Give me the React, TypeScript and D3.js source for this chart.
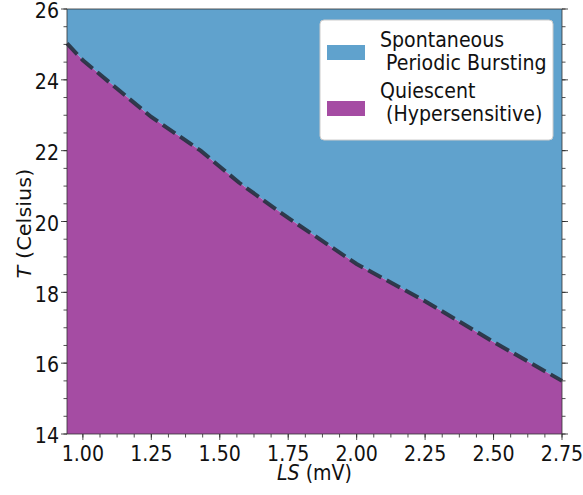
import { useEffect, useRef } from "react";
import * as d3 from "d3";

// boundary between the two regimes
const lsValues = [0.942, 1.0, 1.25, 1.43, 1.57, 1.75, 2.0, 2.25, 2.5, 2.75];
const tValues = [25.03, 24.55, 22.95, 22.0, 21.1, 20.1, 18.8, 17.75, 16.6, 15.5];

const xTicks = [1.0, 1.25, 1.5, 1.75, 2.0, 2.25, 2.5, 2.75];
const yTicks = [14, 16, 18, 20, 22, 24, 26];

const legendLabels = [
  ["Spontaneous", " Periodic Bursting"],
  ["Quiescent", " (Hypersensitive)"],
];

const BLUE = "#60a2cd";
const PURPLE = "#a54ca3";

const width = 583;
const height = 495;
const margin = { top: 9, right: 21, bottom: 61, left: 67 };
// the source figure is slightly stretched vertically
const SY = 1.1;
const FS = 19;

export default function App() {
  const svgRef = useRef<SVGSVGElement>(null);

  useEffect(() => {
    const svg = d3.select(svgRef.current);
    svg.selectAll("*").remove();

    const x = d3
      .scaleLinear()
      .domain([0.942, 2.75])
      .range([margin.left, width - margin.right]);
    const y = d3
      .scaleLinear()
      .domain([14, 26])
      .range([height - margin.bottom, margin.top]);

    const data = lsValues.map((v, i) => ({ ls: v, t: tValues[i] }));

    // upper region (bursting)
    svg
      .append("path")
      .datum(data)
      .attr("fill", BLUE)
      .attr(
        "d",
        d3
          .area<{ ls: number; t: number }>()
          .x((d) => x(d.ls))
          .y0(y(26))
          .y1((d) => y(d.t))
      );

    // lower region (quiescent)
    svg
      .append("path")
      .datum(data)
      .attr("fill", PURPLE)
      .attr(
        "d",
        d3
          .area<{ ls: number; t: number }>()
          .x((d) => x(d.ls))
          .y0(y(14))
          .y1((d) => y(d.t))
      );

    // dashed boundary
    svg
      .append("path")
      .datum(data)
      .attr("fill", "none")
      .attr("stroke", "#26313f")
      .attr("stroke-opacity", 0.9)
      .attr("stroke-width", 4)
      .attr("stroke-dasharray", "15,6")
      .attr(
        "d",
        d3
          .line<{ ls: number; t: number }>()
          .x((d) => x(d.ls))
          .y((d) => y(d.t))
      );

    const font = "DejaVu Sans, sans-serif";

    // x axis
    const xMinor = d3.range(1.0, 2.7501, 0.0625);
    const xAxis = svg
      .append("g")
      .attr("transform", `translate(0,${height - margin.bottom})`);
    xAxis
      .selectAll("line.minor")
      .data(xMinor)
      .join("line")
      .attr("x1", (d) => x(d))
      .attr("x2", (d) => x(d))
      .attr("y1", 0)
      .attr("y2", 3.5)
      .attr("stroke", "#222")
      .attr("stroke-width", 0.8);
    xAxis
      .selectAll("line.major")
      .data(xTicks)
      .join("line")
      .attr("x1", (d) => x(d))
      .attr("x2", (d) => x(d))
      .attr("y1", 0)
      .attr("y2", 6)
      .attr("stroke", "#222")
      .attr("stroke-width", 0.8);
    xAxis
      .selectAll("text")
      .data(xTicks)
      .join("text")
      .attr("transform", (d) => `translate(${x(d)},27) scale(1,${SY})`)
      .attr("text-anchor", "middle")
      .attr("font-family", font)
      .attr("font-size", FS)
      .attr("fill", "#111")
      .text((d) => d3.format(".2f")(d));

    // y axis (left + right ticks)
    const yMinor = d3.range(14, 26.01, 0.5);
    const yAxis = svg.append("g");
    for (const side of ["left", "right"]) {
      const x0 = side === "left" ? margin.left : width - margin.right;
      const dir = side === "left" ? -1 : 1;
      yAxis
        .append("g")
        .selectAll("line")
        .data(yMinor)
        .join("line")
        .attr("x1", x0)
        .attr("x2", x0 + dir * 3.5)
        .attr("y1", (d) => y(d))
        .attr("y2", (d) => y(d))
        .attr("stroke", "#222")
        .attr("stroke-width", 0.8);
      yAxis
        .append("g")
        .selectAll("line")
        .data(yTicks)
        .join("line")
        .attr("x1", x0)
        .attr("x2", x0 + dir * 6)
        .attr("y1", (d) => y(d))
        .attr("y2", (d) => y(d))
        .attr("stroke", "#222")
        .attr("stroke-width", 0.8);
    }
    yAxis
      .append("g")
      .selectAll("text")
      .data(yTicks)
      .join("text")
      .attr("transform", (d) => `translate(${margin.left - 8},${y(d)}) scale(1,${SY})`)
      .attr("dy", "0.44em")
      .attr("text-anchor", "end")
      .attr("font-family", font)
      .attr("font-size", FS)
      .attr("fill", "#111")
      .text((d) => d);

    // frame
    svg
      .append("rect")
      .attr("x", margin.left)
      .attr("y", margin.top)
      .attr("width", width - margin.left - margin.right)
      .attr("height", height - margin.top - margin.bottom)
      .attr("fill", "none")
      .attr("stroke", "#333")
      .attr("stroke-width", 0.8);

    // axis labels
    const xl = svg
      .append("text")
      .attr(
        "transform",
        `translate(${(margin.left + width - margin.right) / 2},480) scale(1,${SY})`
      )
      .attr("text-anchor", "middle")
      .attr("font-family", font)
      .attr("font-size", FS)
      .attr("fill", "#111");
    xl.append("tspan").attr("font-style", "italic").text("LS");
    xl.append("tspan").text(" (mV)");

    const yl = svg
      .append("text")
      .attr(
        "transform",
        `translate(31,${(margin.top + height - margin.bottom) / 2 + 2}) scale(1,${SY}) rotate(-90)`
      )
      .attr("text-anchor", "middle")
      .attr("font-family", font)
      .attr("font-size", FS)
      .attr("fill", "#111");
    yl.append("tspan").attr("font-style", "italic").text("T");
    yl.append("tspan").text(" (Celsius)");

    // legend
    const lg = svg.append("g").attr("transform", "translate(320,20)");
    lg.append("rect")
      .attr("width", 233)
      .attr("height", 120)
      .attr("rx", 4)
      .attr("fill", "white")
      .attr("stroke", "#cccccc")
      .attr("stroke-width", 1);
    [BLUE, PURPLE].forEach((c, i) => {
      lg.append("rect")
        .attr("x", 7)
        .attr("y", 25 + i * 56)
        .attr("width", 38)
        .attr("height", 15)
        .attr("fill", c);
      legendLabels[i].forEach((s, j) => {
        lg.append("text")
          .attr("transform", `translate(60,${27 + i * 51 + j * 23.3}) scale(1,${SY})`)
          .attr("font-family", font)
          .attr("font-size", FS)
          .attr("fill", "#111")
          .style("white-space", "pre")
          .text(s);
      });
    });
  }, []);

  return (
    <svg
      ref={svgRef}
      width={width}
      height={height}
      style={{ position: "absolute", left: 0, top: 0, background: "white" }}
    />
  );
}
